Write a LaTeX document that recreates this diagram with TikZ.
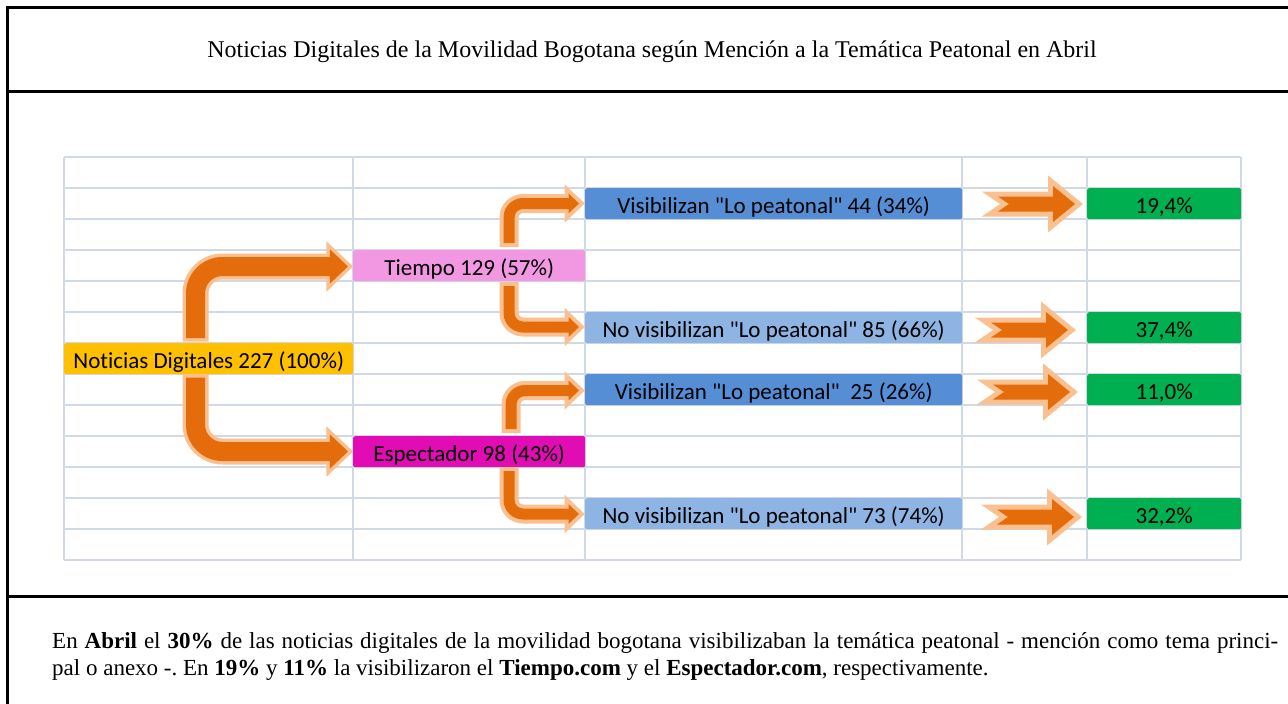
\documentclass[tikz,border=0pt]{standalone}
\usepackage{fontspec}
\setmainfont{Liberation Serif}
\newfontfamily\calfont[Ligatures=NoCommon]{Carlito}
\frenchspacing
\definecolor{dorange}{HTML}{E46C0A}
\definecolor{lorange}{HTML}{FAC090}
\definecolor{cyel}{HTML}{FFC000}
\definecolor{cpink}{HTML}{F298E3}
\definecolor{cmag}{HTML}{E10CB4}
\definecolor{cblue}{HTML}{558ED5}
\definecolor{clblue}{HTML}{8EB4E3}
\definecolor{cgreen}{HTML}{00B050}
\definecolor{cgrid}{HTML}{D2D9E6}
\newcommand\bentarrow[8]{%
\pgfmathsetmacro\BAxa{#1-#6}%
\pgfmathsetmacro\BAxb{#1+#6}%
\pgfmathsetmacro\BAyo{#3+(#5)*#6}%
\pgfmathsetmacro\BAyi{#3-(#5)*#6}%
\pgfmathsetmacro\BAro{#7+#6}%
\pgfmathsetmacro\BAri{#7-#6}%
\pgfmathsetmacro\BAya{\BAyo-(#5)*\BAro}%
\pgfmathsetmacro\BAyac{\BAyo-(#5)*\BAro*0.4477}%
\pgfmathsetmacro\BAxac{\BAxa+\BAro*0.4477}%
\pgfmathsetmacro\BAxae{\BAxa+\BAro}%
\pgfmathsetmacro\BAhb{#4-1.9*#6}%
\pgfmathsetmacro\BAht{#3+(#5)*1.8*#6}%
\pgfmathsetmacro\BAhu{#3-(#5)*1.8*#6}%
\pgfmathsetmacro\BAxbs{\BAxb+\BAri}%
\pgfmathsetmacro\BAxbc{\BAxb+\BAri*0.4477}%
\pgfmathsetmacro\BAybc{\BAyi-(#5)*\BAri*0.4477}%
\pgfmathsetmacro\BAybe{\BAyi-(#5)*\BAri}%
\pgfmathsetmacro\BAlw{2*#8}%
\fill[dorange, preaction={draw=lorange, line width=\BAlw pt, line join=miter}]
 (\BAxa,#2) -- (\BAxa,\BAya) .. controls (\BAxa,\BAyac) and (\BAxac,\BAyo) .. (\BAxae,\BAyo)
 -- (\BAhb,\BAyo) -- (\BAhb,\BAht) -- (#4,#3) -- (\BAhb,\BAhu) -- (\BAhb,\BAyi)
 -- (\BAxbs,\BAyi) .. controls (\BAxbc,\BAyi) and (\BAxb,\BAybc) .. (\BAxb,\BAybe) -- (\BAxb,#2) -- cycle;
}
\newcommand\notcharrow[2]{%
\begin{scope}[shift={(#1,#2)}]
\fill[dorange, preaction={draw=lorange, line width=10pt, line join=miter, miter limit=4}]
 (0,-7.5) -- (55,-7.5) -- (55,-18) -- (77,0) -- (55,18) -- (55,7.5) -- (0,7.5) -- (11,0) -- cycle;
\end{scope}}
\begin{document}
\begin{tikzpicture}[x=1pt,y=-1pt,
  gridline/.style={draw=cgrid, line width=1.8pt},
  frame/.style={draw=black, line width=3pt},
  box/.style={rectangle, rounded corners=2pt, inner sep=0pt, minimum height=31pt,
    anchor=north west, text=black, font=\calfont\fontsize{23}{27}\selectfont,
    text height=22pt, text depth=2pt},
  sent/.style={anchor=base west, inner sep=0pt, font=\fontsize{23}{27}\selectfont}]
\useasboundingbox (0,0) rectangle (1288,704);
\fill[white] (0,0) rectangle (1288,704);
% frame
\draw[frame, line join=miter] (1288,7) -- (7.5,7) -- (7.5,704);
\draw[frame] (7.5,91.5) -- (1288,91.5);
\draw[frame] (7.5,596) -- (1288,596);
\node[anchor=base, inner sep=0pt, font=\fontsize{24}{28}\selectfont] (title) at (652,57)
  {Noticias Digitales de la Movilidad Bogotana según Mención a la Temática Peatonal en Abril};
% grid
\foreach \k in {0,...,13} \draw[gridline] (64,{157+31*\k}) -- (1241,{157+31*\k});
\foreach \x in {64,353,585,962,1087,1241} \draw[gridline] (\x,157) -- (\x,560);
% boxes
\node[box, fill=cyel, minimum width=289pt] (nd) at (64,343) {Noticias Digitales 227 (100\%)};
\node[box, fill=cpink, minimum width=232pt] (ti) at (353,250) {Tiempo 129 (57\%)};
\node[box, fill=cmag, minimum width=232pt] (es) at (353,436) {Espectador 98 (43\%)};
\node[box, fill=cblue, minimum width=377pt] (v1) at (585,188) {Visibilizan "Lo peatonal" 44 (34\%)};
\node[box, fill=clblue, minimum width=377pt] (n1) at (585,312) {No visibilizan "Lo peatonal" 85 (66\%)};
\node[box, fill=cblue, minimum width=377pt] (v2) at (585,374) {Visibilizan "Lo peatonal"\ \ 25 (26\%)};
\node[box, fill=clblue, minimum width=377pt] (n2) at (585,498) {No visibilizan "Lo peatonal" 73 (74\%)};
\node[box, fill=cgreen, minimum width=154pt] (g1) at (1087,188) {19,4\%};
\node[box, fill=cgreen, minimum width=154pt] (g2) at (1087,312) {37,4\%};
\node[box, fill=cgreen, minimum width=154pt] (g3) at (1087,374) {11,0\%};
\node[box, fill=cgreen, minimum width=154pt] (g4) at (1087,498) {32,2\%};
% bent arrows
\bentarrow{195.5}{338}{266.5}{348}{-1}{9.5}{27}{3.5}
\bentarrow{195.5}{377.5}{451.5}{348}{1}{9.5}{27}{3.5}
\bentarrow{509}{243}{203.5}{579}{-1}{5.5}{14}{4}
\bentarrow{509}{286}{327}{579}{1}{5.5}{14}{4}
\bentarrow{511}{429}{390.5}{579}{-1}{5.5}{14}{4}
\bentarrow{509}{471}{514}{579}{1}{5.5}{14}{4}
% straight arrows
\notcharrow{998}{204}
\notcharrow{991}{330}
\notcharrow{993}{392}
\notcharrow{997}{517}
% note
\node[sent] (note1) at (52,648) {\makebox[1226pt][s]{En \textbf{Abril} el \textbf{30\%} de las noticias digitales de la movilidad bogotana visibilizaban la temática peatonal - mención como tema princi-}};
\node[sent] (note2) at (52,675) {pal o anexo -. En \textbf{19\%} y \textbf{11\%} la visibilizaron el \textbf{Tiempo.com} y el \textbf{Espectador.com}, respectivamente.};
\end{tikzpicture}
\end{document}
